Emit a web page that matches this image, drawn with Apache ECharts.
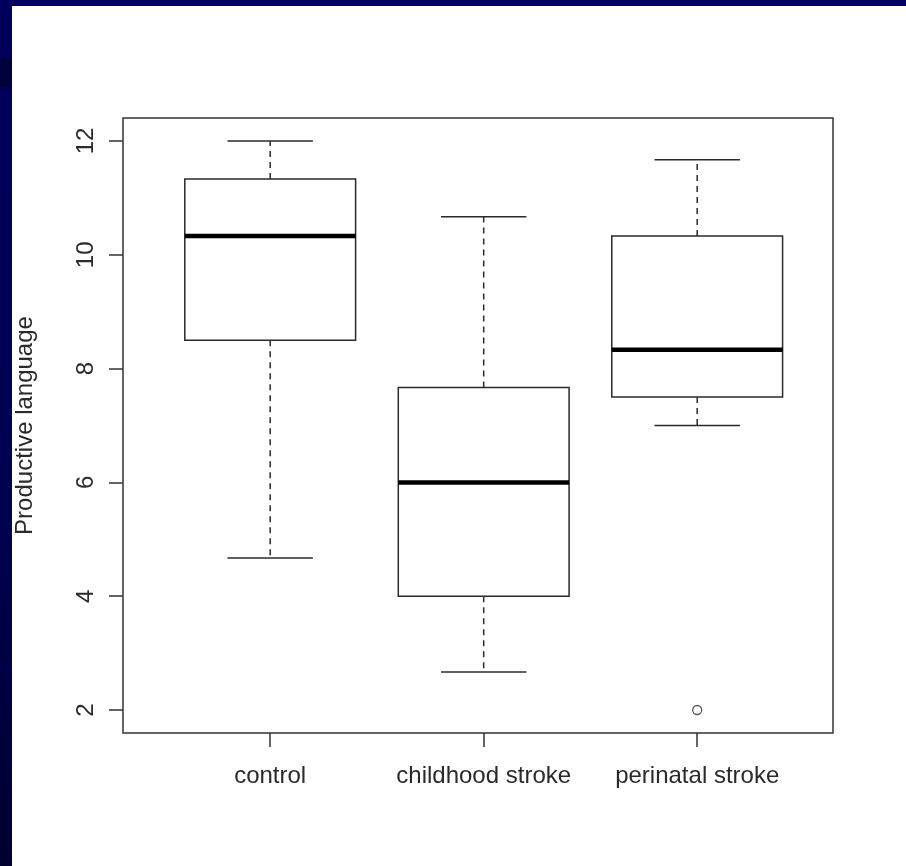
<!DOCTYPE html>
<html>
<head>
<meta charset="utf-8">
<script src="https://cdn.jsdelivr.net/npm/echarts@6/dist/echarts.min.js"></script>
<style>
  html, body { margin: 0; padding: 0; background: #ffffff; }
  #chart { width: 906px; height: 866px; }
</style>
</head>
<body>
<div id="chart"></div>
<script>
// ---- data ----
const categories = ['control', 'childhood stroke', 'perinatal stroke'];
const whiskerLow  = [4.67, 2.67, 7.00];
const quartile1   = [8.50, 4.00, 7.50];
const medians     = [10.33, 6.00, 8.33];
const quartile3   = [11.33, 7.67, 10.33];
const whiskerHigh = [12.00, 10.67, 11.67];
const outlierGroups = ['perinatal stroke'];
const outlierValues = [2];
const yTicks = [2, 4, 6, 8, 10, 12];
const yTitle = 'Productive language';

const boxData = categories.map((c, i) => [i + 1, whiskerLow[i], quartile1[i], medians[i], quartile3[i], whiskerHigh[i]]);
const outlierData = outlierGroups.map((g, i) => [categories.indexOf(g) + 1, outlierValues[i]]);

const ink = '#2a2a2a';
const font = 'Liberation Sans, Arial, sans-serif';

const chart = echarts.init(document.getElementById('chart'), null, { renderer: 'canvas' });
chart.setOption({
  backgroundColor: '#ffffff',
  animation: false,
  graphic: [
    { type: 'rect', shape: { x: 0, y: 0, width: 906, height: 6 }, style: { fill: '#00005c' }, z: 100 },
    { type: 'rect', shape: { x: 0, y: 0, width: 12, height: 866 },
      style: { fill: new echarts.graphic.LinearGradient(0, 0, 0, 1, [
        { offset: 0, color: '#00005c' }, { offset: 0.6, color: '#000050' }, { offset: 1, color: '#000030' }]) }, z: 100 },
    { type: 'rect', shape: { x: 0, y: 58, width: 12, height: 29 }, style: { fill: '#00003c' }, z: 101 }
  ],
  grid: {
    left: 123, right: 73, top: 118, bottom: 133,
    show: true, borderColor: '#333', borderWidth: 1.5, backgroundColor: 'transparent'
  },
  xAxis: {
    type: 'value', min: 0.3106, max: 3.6361,
    axisLine: { show: false },
    splitLine: { show: false },
    axisTick: { show: true, customValues: [1, 2, 3], length: 14, lineStyle: { color: '#333', width: 1.5 } },
    axisLabel: {
      customValues: [1, 2, 3], margin: 31,
      formatter: v => categories[Math.round(v) - 1] || '',
      color: ink, fontSize: 24, fontFamily: font
    }
  },
  yAxis: {
    type: 'value', min: 1.596, max: 12.404,
    name: yTitle, nameLocation: 'middle', nameGap: 86,
    nameTextStyle: { color: ink, fontSize: 24, fontFamily: font },
    axisLine: { show: false },
    splitLine: { show: false },
    axisTick: { show: true, customValues: yTicks, length: 14, lineStyle: { color: '#333', width: 1.5 } },
    axisLabel: {
      customValues: yTicks, rotate: 90, margin: 25,
      color: ink, fontSize: 24, fontFamily: font
    }
  },
  series: [
    {
      type: 'custom',
      data: boxData,
      encode: { x: 0, y: [1, 2, 3, 4, 5] },
      renderItem: function (params, api) {
        const x = api.value(0);
        const half = api.size([0.4, 0])[0];
        const capHalf = api.size([0.2, 0])[0];
        const pMin = api.coord([x, api.value(1)]);
        const pQ1 = api.coord([x, api.value(2)]);
        const pMed = api.coord([x, api.value(3)]);
        const pQ3 = api.coord([x, api.value(4)]);
        const pMax = api.coord([x, api.value(5)]);
        const cx = pMin[0];
        const solid = { stroke: ink, lineWidth: 1.5, fill: null };
        const dashed = { stroke: ink, lineWidth: 1.5, lineDash: [6, 5], fill: null };
        return {
          type: 'group',
          children: [
            { type: 'line', shape: { x1: cx, y1: pQ3[1], x2: cx, y2: pMax[1] }, style: dashed },
            { type: 'line', shape: { x1: cx, y1: pQ1[1], x2: cx, y2: pMin[1] }, style: dashed },
            { type: 'line', shape: { x1: cx - capHalf, y1: pMax[1], x2: cx + capHalf, y2: pMax[1] }, style: solid },
            { type: 'line', shape: { x1: cx - capHalf, y1: pMin[1], x2: cx + capHalf, y2: pMin[1] }, style: solid },
            { type: 'rect', shape: { x: cx - half, y: pQ3[1], width: 2 * half, height: pQ1[1] - pQ3[1] },
              style: { stroke: ink, lineWidth: 1.5, fill: '#ffffff' } },
            { type: 'line', shape: { x1: cx - half, y1: pMed[1], x2: cx + half, y2: pMed[1] },
              style: { stroke: '#000000', lineWidth: 4.5 } }
          ]
        };
      }
    },
    {
      type: 'scatter',
      data: outlierData,
      symbol: 'circle',
      symbolSize: 9,
      itemStyle: { color: '#ffffff', borderColor: ink, borderWidth: 1.3 }
    }
  ]
});
</script>
</body>
</html>
